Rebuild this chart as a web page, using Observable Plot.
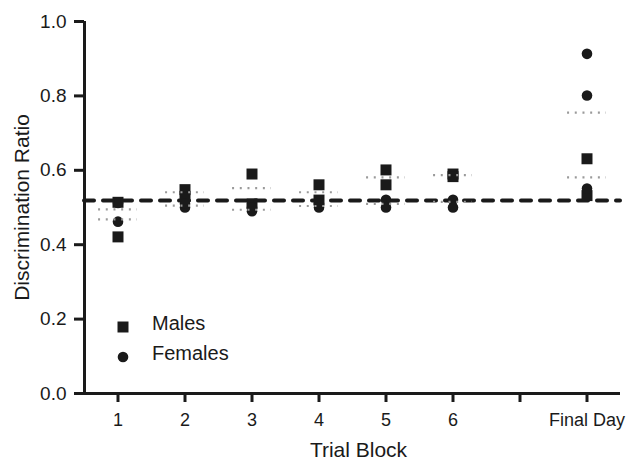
<!DOCTYPE html>
<html>
<head>
<meta charset="utf-8">
<script src="https://cdn.jsdelivr.net/npm/d3@7"></script>
<script src="https://cdn.jsdelivr.net/npm/@observablehq/plot@0.6"></script>
<style>
  html, body { margin: 0; padding: 0; background: #fff; }
  #chart svg { display: block; }
</style>
</head>
<body>
<div id="chart"></div>
<script>
// ---- data ----
const blockLabels = ["1", "2", "3", "4", "5", "6", "", "Final Day"];
const blockPos = [1, 2, 3, 4, 5, 6, 8];            // tick index of each data block
const seriesNames = ["Males", "Females"];

// individual subject values per block
const maleValues = [
  [0.514, 0.421],
  [0.548, 0.530],
  [0.590, 0.510],
  [0.561, 0.520],
  [0.601, 0.561],
  [0.590, 0.583],
  [0.631, 0.532]
];
const femaleValues = [
  [0.462, 0.512],
  [0.500, 0.510],
  [0.490, 0.500],
  [0.500, 0.510],
  [0.521, 0.500],
  [0.521, 0.500],
  [0.913, 0.801, 0.551]
];
// group means (grey dotted lines)
const maleMeans = [0.468, 0.541, 0.552, 0.541, 0.581, 0.587, 0.581];
const femaleMeans = [0.495, 0.505, 0.494, 0.504, 0.510, 0.515, 0.755];
const chanceLevel = 0.519;
const yTicks = [0, 0.2, 0.4, 0.6, 0.8, 1.0];

// ---- build tables ----
const malePts = maleValues.flatMap((vs, i) => vs.map(v => ({x: blockPos[i], y: v})));
const femalePts = femaleValues.flatMap((vs, i) => vs.map(v => ({x: blockPos[i], y: v})));
const means = [
  ...maleMeans.map((v, i) => ({x: blockPos[i], y: v})),
  ...femaleMeans.map((v, i) => ({x: blockPos[i], y: v}))
];

const ink = "#1a1a1a";
const half = 0.29;

const chart = Plot.plot({
  width: 628,
  height: 459,
  marginLeft: 84,
  marginRight: 8,
  marginTop: 21,
  marginBottom: 66,
  x: {domain: [0.5, 8.5]},
  y: {domain: [0, 1]},
  style: {fontFamily: "'Liberation Sans', Arial, sans-serif", color: ink, background: "#fff"},
  marks: [
    Plot.axisY({ticks: yTicks, tickFormat: d => d.toFixed(1), tickSize: 10, tickPadding: 8,
      fontSize: 19, strokeWidth: 3, label: null}),
    Plot.axisX({ticks: blockLabels.map((_, i) => i + 1), tickFormat: d => blockLabels[d - 1],
      tickSize: 9, tickPadding: 11, fontSize: 18, strokeWidth: 3, label: null}),
    Plot.ruleY([0], {strokeWidth: 3, stroke: ink}),
    Plot.ruleX([0.5], {strokeWidth: 3, stroke: ink}),
    Plot.dot(malePts, {x: "x", y: "y", symbol: "square", r: 6.2, fill: ink, stroke: null}),
    Plot.dot(femalePts, {x: "x", y: "y", symbol: "circle", r: 5.3, fill: ink, stroke: null}),
    Plot.ruleY([chanceLevel], {stroke: ink, strokeWidth: 4, strokeDasharray: "10,9", strokeLinecap: "round"}),
    Plot.ruleY(means, {y: "y", x1: d => d.x - half, x2: d => d.x + half,
      stroke: "#9a9a9a", strokeWidth: 2.2, strokeDasharray: "2,5.7"}),
    // legend
    Plot.dot([seriesNames[0]], {frameAnchor: "bottom-left", dx: 38.5, dy: -66.5, symbol: "square", r: 6.2, fill: ink}),
    Plot.dot([seriesNames[1]], {frameAnchor: "bottom-left", dx: 38.5, dy: -36.5, symbol: "circle", r: 5.3, fill: ink}),
    Plot.text([seriesNames[0]], {frameAnchor: "bottom-left", dx: 67.5, dy: -64, textAnchor: "start", fontSize: 20, fill: ink}),
    Plot.text([seriesNames[1]], {frameAnchor: "bottom-left", dx: 67.5, dy: -34, textAnchor: "start", fontSize: 20, fill: ink}),
    // axis titles
    Plot.text(["Discrimination Ratio"], {frameAnchor: "left", dx: -62, rotate: -90, textAnchor: "middle", fontSize: 21, fill: ink}),
    Plot.text(["Trial Block"], {frameAnchor: "bottom", dx: 6, dy: 63, textAnchor: "middle", fontSize: 21, fill: ink})
  ]
});
document.getElementById("chart").appendChild(chart);
</script>
</body>
</html>
